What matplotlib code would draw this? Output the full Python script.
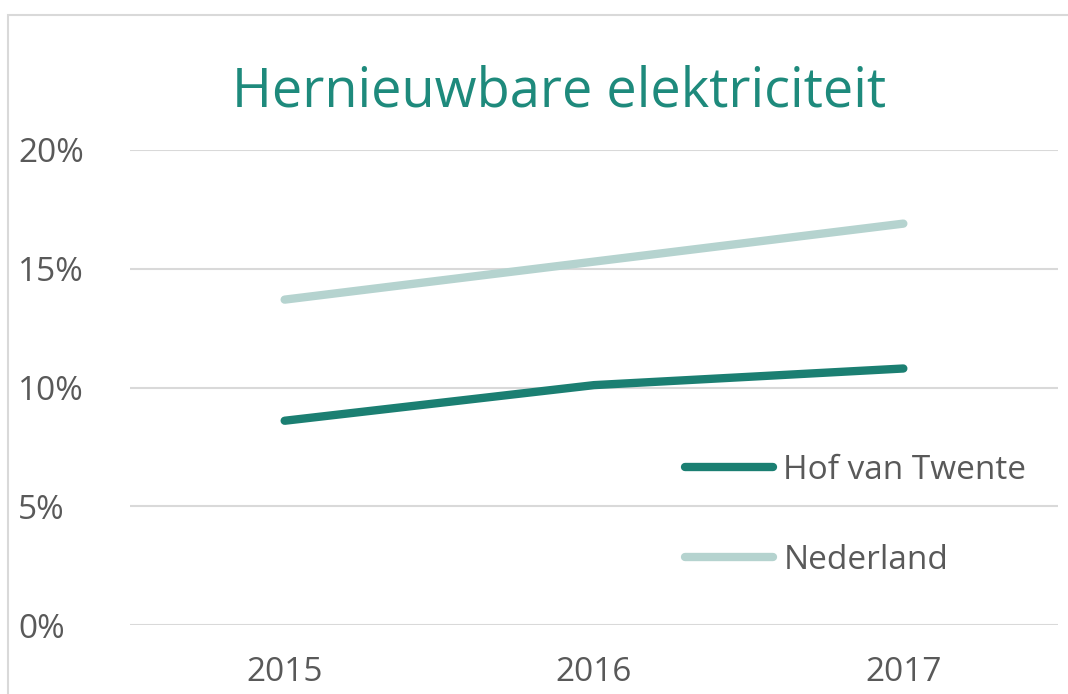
import matplotlib
matplotlib.use("Agg")
import matplotlib.pyplot as plt
from matplotlib.patches import Rectangle
from matplotlib.ticker import FuncFormatter

years = ["2015", "2016", "2017"]
hof_van_twente = [8.6, 10.1, 10.8]
nederland = [13.7, 15.3, 16.9]
series_names = ["Hof van Twente", "Nederland"]
title = "Hernieuwbare elektriciteit"

W, H = 1068, 694
fig = plt.figure(figsize=(W / 100, H / 100), dpi=100)
plt.rcParams['font.family'] = ['Open Sans', 'DejaVu Sans']

# chart frame (partially visible)
fig.patches.append(Rectangle((8 / W, -0.1), 1.2, (H - 15) / H + 0.1, transform=fig.transFigure,
                             fill=False, edgecolor="#d9d9d9", linewidth=1.5))

ax = fig.add_axes([130 / W, (H - 625) / H, (1058 - 130) / W, (625 - 150) / H])
x = range(len(years))
l1, = ax.plot(x, hof_van_twente, color="#1b7f72", linewidth=6, solid_capstyle="round", label=series_names[0])
l2, = ax.plot(x, nederland, color="#b5d3cf", linewidth=6, solid_capstyle="round", label=series_names[1])

ax.set_xlim(-0.5, 2.5)
ax.set_ylim(0, 20)
ax.set_yticks([0, 5, 10, 15, 20])
ax.yaxis.set_major_formatter(FuncFormatter(lambda v, p: f"{v:.0f}%"))
ax.set_xticks(list(x))
ax.set_xticklabels(years)
ax.grid(axis="y", color="#d9d9d9", linewidth=1.5)
ax.set_axisbelow(True)
for s in ax.spines.values():
    s.set_visible(False)
ax.tick_params(length=0, labelsize=24, labelcolor="#595959")
ax.tick_params(axis="x", pad=22)
ax.yaxis.set_tick_params(pad=0)
for lab in ax.get_yticklabels():
    lab.set_horizontalalignment("left")
    lab.set_x(-(130 - 18) / (1058 - 130))
    lab.set_transform(ax.get_yaxis_transform())

fig.text(559 / W, (H - 92) / H, title, ha="center", va="center", fontsize=39, color="#1e8a7c")

leg = ax.legend(handles=[l1, l2], loc="upper left", bbox_to_anchor=(655 / W, (H - 424) / H),
                bbox_transform=fig.transFigure, frameon=False, fontsize=24, labelcolor="#595959",
                handlelength=2.65, handletextpad=0.3, labelspacing=1.71)

fig.savefig("out.png", dpi=100)
